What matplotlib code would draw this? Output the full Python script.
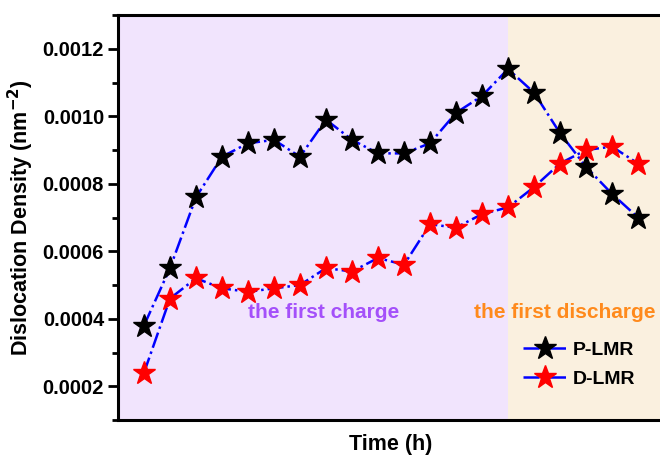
import matplotlib
matplotlib.use("Agg")
import matplotlib.pyplot as plt
from matplotlib.ticker import MultipleLocator

plt.rcParams['font.family'] = ['Liberation Sans', 'DejaVu Sans']
plt.rcParams['font.weight'] = 'bold'
plt.rcParams['mathtext.default'] = 'bf'

# Sampling points along the first charge / discharge
time_idx = list(range(1, 21))

p_lmr = [0.00038, 0.00055, 0.00076, 0.00088, 0.00092, 0.00093, 0.00088,
         0.00099, 0.00093, 0.00089, 0.00089, 0.00092, 0.00101, 0.00106,
         0.00114, 0.00107, 0.00095, 0.00085, 0.00077, 0.00070]

d_lmr = [0.00024, 0.00046, 0.00052, 0.00049, 0.00048, 0.00049, 0.00050,
         0.00055, 0.00054, 0.00058, 0.00056, 0.00068, 0.00067, 0.00071,
         0.00073, 0.00079, 0.00086, 0.00090, 0.00091, 0.00086]

series_labels = ['P-LMR', 'D-LMR']
y_ticks = [0.0002, 0.0004, 0.0006, 0.0008, 0.0010, 0.0012]
charge_end = 15

fig = plt.figure(figsize=(6.6, 4.55), dpi=100)
ax = fig.add_axes([118 / 660, 1 - 420 / 455, 546 / 660, 405 / 455])

ax.set_xlim(0, 21)
ax.set_ylim(0.0001, 0.0013)

ax.axvspan(0, charge_end, color='#f1e4fd', zorder=0, lw=0)
ax.axvspan(charge_end, 21, color='#faf0df', zorder=0, lw=0)

ax.plot(time_idx, p_lmr, linestyle='-.', color='#0000ff', lw=1.8,
        marker='*', markersize=17, markerfacecolor='black',
        markeredgecolor='black', label=series_labels[0], zorder=3)
ax.plot(time_idx, d_lmr, linestyle='-.', color='#0000ff', lw=1.8,
        marker='*', markersize=17, markerfacecolor='#ff0000',
        markeredgecolor='#ff0000', label=series_labels[1], zorder=3)

ax.text(7.9, 0.00042, 'the first charge', color='#a450fa', fontsize=15,
        fontweight='bold', ha='center', va='center')
ax.text(17.2, 0.00042, 'the first discharge', color='#ff8a1c', fontsize=15,
        fontweight='bold', ha='center', va='center')

ax.set_yticks(y_ticks)
ax.set_yticklabels([f'{v:.4f}' for v in y_ticks])
ax.yaxis.set_minor_locator(MultipleLocator(0.0001))
ax.set_xticks([])
ax.tick_params(axis='y', which='major', direction='out', length=7, width=2,
               labelsize=14.5, pad=3)
ax.tick_params(axis='y', which='minor', direction='out', length=4, width=2)

for side in ['left', 'bottom', 'top']:
    ax.spines[side].set_linewidth(2.2)
ax.spines['right'].set_visible(False)

ax.set_xlabel('Time (h)', fontsize=15.5, fontweight='bold', labelpad=10)
ax.set_ylabel('Dislocation Density (nm$^{-2}$)', fontsize=15.5,
              fontweight='bold', labelpad=5)

leg = ax.legend(loc='upper left', bbox_to_anchor=(0.742, 0.195), frameon=False,
                fontsize=14, handlelength=2.2, handletextpad=0.35,
                labelspacing=0.58, borderpad=0, borderaxespad=0)

fig.savefig('out.png', dpi=100)
